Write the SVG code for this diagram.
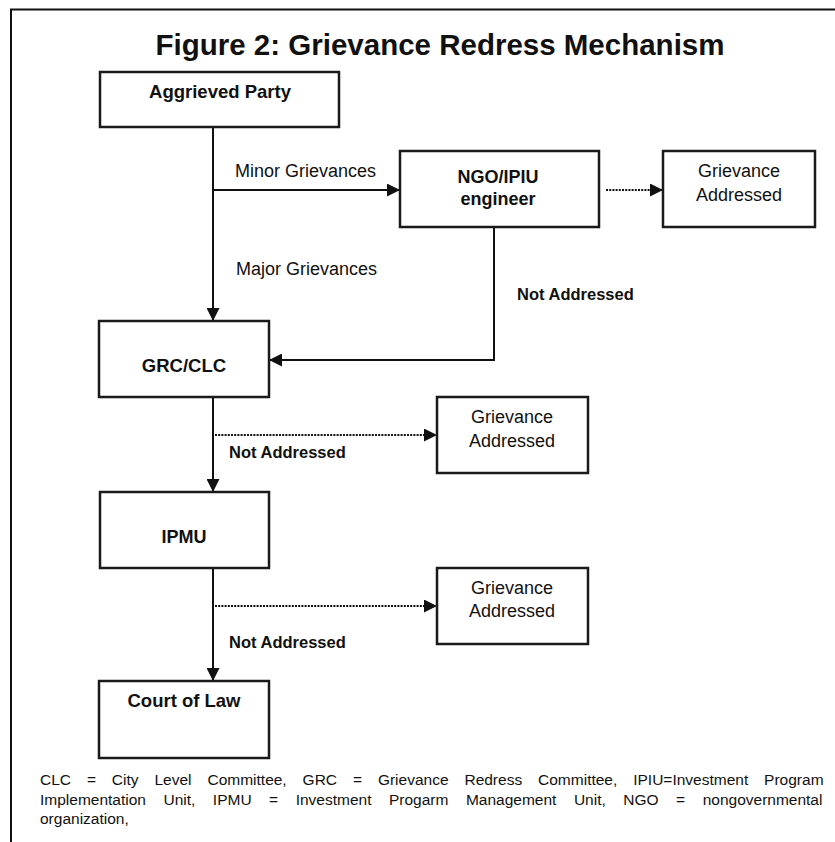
<svg xmlns="http://www.w3.org/2000/svg" width="835" height="842" viewBox="0 0 835 842">
<defs>
<style>
.box{fill:#fff;stroke:#1a1a1a;stroke-width:2.5}
.ln{fill:none;stroke:#111;stroke-width:2}
.dot{fill:none;stroke:#111;stroke-width:2;stroke-dasharray:2 1.2}
.b{font-family:"Liberation Sans",Arial,sans-serif;font-weight:bold;fill:#111;text-anchor:middle}
.n{font-family:"Liberation Sans",Arial,sans-serif;fill:#111;text-anchor:middle}
.l{text-anchor:start}
.fn{font-family:"Liberation Sans",Arial,sans-serif;fill:#111;font-size:15.5px}
</style>
<marker id="ah" markerUnits="userSpaceOnUse" markerWidth="13" markerHeight="13" refX="13" refY="6.5" orient="auto">
<path d="M0,0 L13,6.5 L0,13 z" fill="#111"/>
</marker>
</defs>
<rect width="835" height="842" fill="#fff"/>
<path d="M11,842 V9.5 H835" fill="none" stroke="#111" stroke-width="2"/>
<text x="440" y="55" class="b" font-size="29.5">Figure 2: Grievance Redress Mechanism</text>

<g id="connectors">
<path class="ln" d="M213,127 V321" marker-end="url(#ah)"/>
<path class="ln" d="M213,190 H400" marker-end="url(#ah)"/>
<path class="ln" d="M494,227 V360 H269" marker-end="url(#ah)"/>
<path class="ln" d="M213,397 V492" marker-end="url(#ah)"/>
<path class="ln" d="M213,568 V681" marker-end="url(#ah)"/>
<path class="dot" d="M606,190 H663" marker-end="url(#ah)"/>
<path class="dot" d="M215,435 H437" marker-end="url(#ah)"/>
<path class="dot" d="M215,606 H437" marker-end="url(#ah)"/>
<text x="235" y="177" class="n l" font-size="18">Minor Grievances</text>
<text x="236" y="275" class="n l" font-size="18">Major Grievances</text>
<text x="517" y="300" class="b l" font-size="16.5">Not Addressed</text>
<text x="229" y="458" class="b l" font-size="16.5">Not Addressed</text>
<text x="229" y="648" class="b l" font-size="16.5">Not Addressed</text>
</g>

<g id="aggrieved">
<rect class="box" x="100" y="72" width="239" height="55"/>
<text x="220" y="98" class="b" font-size="18.5">Aggrieved Party</text>
</g>
<g id="ngo">
<rect class="box" x="400" y="151" width="199" height="76"/>
<text x="498" y="183" class="b" font-size="18">NGO/IPIU</text>
<text x="498" y="205" class="b" font-size="18">engineer</text>
</g>
<g id="addressed1">
<rect class="box" x="663" y="151" width="152" height="76"/>
<text x="739" y="177" class="n" font-size="18">Grievance</text>
<text x="739" y="201" class="n" font-size="18">Addressed</text>
</g>
<g id="grc">
<rect class="box" x="99" y="321" width="170" height="76"/>
<text x="184" y="372" class="b" font-size="18.5">GRC/CLC</text>
</g>
<g id="addressed2">
<rect class="box" x="437" y="397" width="151" height="76"/>
<text x="512" y="423" class="n" font-size="18">Grievance</text>
<text x="512" y="447" class="n" font-size="18">Addressed</text>
</g>
<g id="ipmu">
<rect class="box" x="100" y="492" width="169" height="76"/>
<text x="184" y="543" class="b" font-size="18">IPMU</text>
</g>
<g id="addressed3">
<rect class="box" x="437" y="568" width="151" height="76"/>
<text x="512" y="594" class="n" font-size="18">Grievance</text>
<text x="512" y="617" class="n" font-size="18">Addressed</text>
</g>
<g id="court">
<rect class="box" x="99" y="681" width="170" height="77"/>
<text x="184" y="707" class="b" font-size="18.5">Court of Law</text>
</g>

<text x="40" y="785" class="fn" word-spacing="11.6">CLC = City Level Committee, GRC = Grievance Redress Committee, IPIU=Investment Program</text>
<text x="40" y="805" class="fn" word-spacing="13.2">Implementation Unit, IPMU = Investment Progarm Management Unit, NGO = nongovernmental</text>
<text x="40" y="824" class="fn">organization,</text>
</svg>
